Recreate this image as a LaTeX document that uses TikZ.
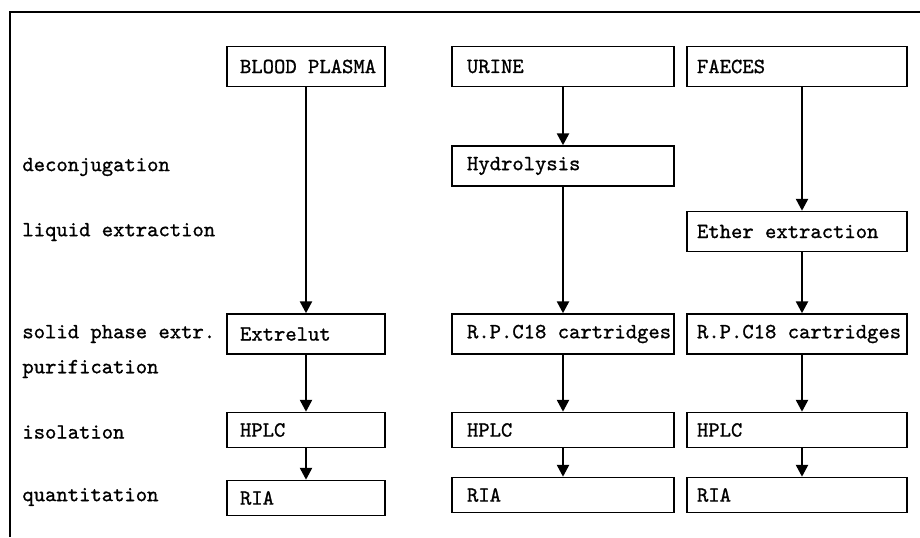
\documentclass[tikz,border=0pt]{standalone}
\usepackage{fontspec}
\newfontfamily\twfont{lmmono10-regular.otf}[FakeBold=1]
\usetikzlibrary{arrows.meta}
\begin{document}
\begin{tikzpicture}[x=0.5pt,y=-0.5pt,
  every node/.style={font=\fontsize{10.8}{12}\twfont},
  box/.style={draw, line width=0.75pt, rectangle, inner ysep=0pt, align=flush left, minimum height=20pt},
  c1/.style={box, inner xsep=6.5pt, text width=79pt-13pt},
  c2/.style={box, inner xsep=7.5pt, text width=111pt-15pt},
  c3/.style={box, inner xsep=5pt, text width=110pt-10pt},
  low/.style={minimum height=17.5pt},
  lbl/.style={anchor=west, inner sep=0pt},
  arr/.style={line width=1.25pt, -{Triangle[width=6pt,length=6pt]}},
  frame/.style={line width=0.7pt}]
\useasboundingbox (0,0) rectangle (920,537);
\draw[frame] (10,537) -- (10,12) -- (920,12);
% row labels
\node[lbl] (l1) at (22,167) {deconjugation};
\node[lbl] (l2) at (22,232) {liquid extraction};
\node[lbl] (l3) at (22,334) {solid phase extr.};
\node[lbl] (l4) at (22,369) {purification};
\node[lbl] (l5) at (22,432) {isolation};
\node[lbl] (l6) at (22,497) {quantitation};
% column 1
\node[c1] (bp) at (306,66.5) {\mbox{BLOOD PLASMA}};
\node[c1] (ex) at (306,334) {Extrelut};
\node[c1,low] (h1) at (306,430) {HPLC};
\node[c1,low] (r1) at (306,498) {RIA};
% column 2
\node[c2] (ur) at (563,66.5) {URINE};
\node[c2] (hy) at (563,166) {Hydrolysis};
\node[c2] (rp2) at (563,334) {\mbox{R.P.C18 cartridges}};
\node[c2,low] (h2) at (563,430) {HPLC};
\node[c2,low] (r2) at (563,495) {RIA};
% column 3
\node[c3] (fa) at (797,66.5) {FAECES};
\node[c3] (et) at (797,231.5) {Ether extraction};
\node[c3] (rp3) at (797,334) {\mbox{R.P.C18 cartridges}};
\node[c3,low] (h3) at (797,430) {HPLC};
\node[c3,low] (r3) at (797,495) {RIA};
% arrows
\draw[arr] (bp) -- (ex);
\draw[arr] (ex) -- (h1);
\draw[arr] (h1) -- (r1);
\draw[arr] (ur) -- (hy);
\draw[arr] (hy) -- (rp2);
\draw[arr] (rp2) -- (h2);
\draw[arr] (h2) -- (r2);
\draw[arr] ([xshift=2.5pt]fa.south) -- ([xshift=2.5pt]et.north);
\draw[arr] ([xshift=2.5pt]et.south) -- ([xshift=2.5pt]rp3.north);
\draw[arr] ([xshift=2.5pt]rp3.south) -- ([xshift=2.5pt]h3.north);
\draw[arr] ([xshift=2.5pt]h3.south) -- ([xshift=2.5pt]r3.north);
\end{tikzpicture}
\end{document}
